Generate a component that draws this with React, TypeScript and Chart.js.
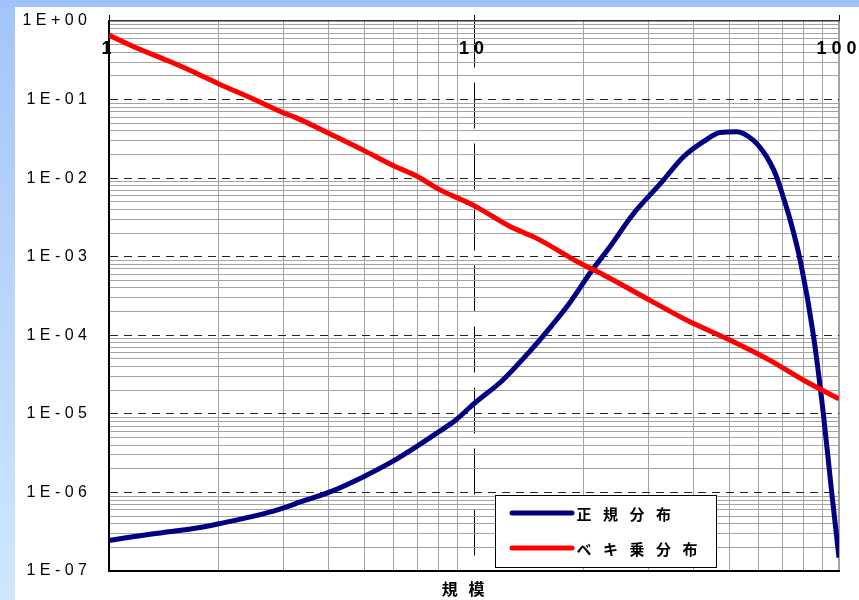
import React, { useEffect, useRef } from 'react';
import { Chart, registerables } from 'chart.js';

Chart.register(...registerables);

// ---- data ----
const seriesNames = ['正規分布', 'ベキ乗分布'];
const xTitle = '規 模';

const normalX = [1, 1.34, 1.72, 2, 2.79, 3.44, 4, 5, 6, 7, 8, 8.9, 10, 12, 14.2, 16.5, 18.3, 20.8, 23.6, 27.3, 32.4, 37.5, 42.5, 47.2, 52.5, 58.2, 62.1, 64.7, 67.4, 70.3, 73.4, 78.5, 85.1, 90.6, 95.5, 100];
const normalY = [2.45e-7, 3.0e-7, 3.5e-7, 4.0e-7, 5.7e-7, 7.9e-7, 1.0e-6, 1.6e-6, 2.5e-6, 3.9e-6, 5.9e-6, 8.3e-6, 1.35e-5, 2.7e-5, 6.2e-5, 1.41e-4, 2.6e-4, 6.2e-4, 1.35e-3, 3.5e-3, 8.5e-3, 0.0187, 0.0291, 0.038, 0.039, 0.0305, 0.0215, 0.0158, 0.0105, 0.0058, 0.003, 8.5e-4, 1e-4, 1e-5, 1e-6, 1.48e-7];

const powerX = [1, 1.2, 1.44, 1.7, 2, 2.46, 3.03, 3.24, 4, 5, 6, 7, 8, 10, 12.6, 14.9, 19.5, 22.6, 30.3, 38.3, 50.2, 64.7, 79.8, 100];
const powerY = [0.66, 0.447, 0.316, 0.226, 0.158, 0.104, 0.0668, 0.0594, 0.0372, 0.0224, 0.0145, 0.0105, 0.00724, 0.00447, 0.0024, 0.0017, 8.3e-4, 5.9e-4, 2.8e-4, 1.55e-4, 8.7e-5, 4.8e-5, 2.7e-5, 1.55e-5];

const xTickValues = [1, 10, 100];
const xTickLabels = ['1', '10', '100'];
const yTickValues = [1e-7, 1e-6, 1e-5, 1e-4, 1e-3, 1e-2, 1e-1, 1];
const yTickLabels = ['1E-07', '1E-06', '1E-05', '1E-04', '1E-03', '1E-02', '1E-01', '1E+00'];
const minorMultipliers = [1, 2, 3, 4, 5, 6, 7, 8, 9];

const seriesColors = ['#000080', '#ff0000'];

// ---- helpers ----
const TRANSPARENT = 'rgba(0,0,0,0)';
const spaced = (s: string) => s.split('').join(' ');
const isDecade = (v: number) => {
  const l = Math.log10(v);
  return Math.abs(l - Math.round(l)) < 1e-6;
};
const minorTicks = (decades: number[]) => {
  const out: number[] = [];
  for (let i = 0; i < decades.length - 1; i++) {
    for (const m of minorMultipliers) out.push(m * decades[i]);
  }
  out.push(decades[decades.length - 1]);
  return out;
};

const bgPlugin = {
  id: 'pageBg',
  beforeDraw(chart: any) {
    const { ctx, width, height } = chart;
    ctx.save();
    const g = ctx.createLinearGradient(0, 0, 0, height);
    g.addColorStop(0, '#a2c6f9');
    g.addColorStop(1, '#cfe7fd');
    ctx.fillStyle = g;
    ctx.fillRect(0, 0, width, height);
    ctx.fillStyle = '#9dc3f9';
    ctx.fillRect(0, 0, width, 7);
    ctx.fillStyle = '#ffffff';
    ctx.fillRect(15, 7, width - 15, height - 7);
    ctx.restore();
  },
};

const boxLegendPlugin = {
  id: 'boxLegend',
  afterDraw(chart: any) {
    const { ctx } = chart;
    const ds = chart.data.datasets;
    ctx.save();
    ctx.fillStyle = '#ffffff';
    ctx.fillRect(495.5, 495.5, 221, 72);
    ctx.strokeStyle = '#000';
    ctx.lineWidth = 1;
    ctx.strokeRect(495.5, 495.5, 221, 72);
    ds.forEach((d: any, i: number) => {
      const y = 513 + i * 35;
      ctx.strokeStyle = d.borderColor;
      ctx.lineWidth = 5;
      ctx.lineCap = 'round';
      ctx.beginPath();
      ctx.moveTo(512, y);
      ctx.lineTo(572, y);
      ctx.stroke();
      ctx.fillStyle = '#000';
      ctx.font = 'bold 15px "Noto Sans CJK JP"';
      ctx.textAlign = 'center';
      ctx.textBaseline = 'middle';
      Array.from(d.label as string).forEach((ch, j) => {
        ctx.fillText(ch, 584 + j * 26.5, y + 1);
      });
    });
    ctx.restore();
  },
};

export default function App() {
  const ref = useRef<HTMLCanvasElement | null>(null);

  useEffect(() => {
    if (!ref.current) return;
    Chart.defaults.font.family = '"Liberation Sans", Arial, sans-serif';
    const xMinor = minorTicks([1, 10, 100]);
    const yMinor = minorTicks(yTickValues);

    const chart = new Chart(ref.current, {
      type: 'line',
      data: {
        datasets: [
          {
            label: seriesNames[0],
            data: normalX.map((x, i) => ({ x, y: normalY[i] })),
            borderColor: seriesColors[0],
            backgroundColor: seriesColors[0],
            borderWidth: 5,
            pointRadius: 0,
            cubicInterpolationMode: 'monotone',
            xAxisID: 'x',
            yAxisID: 'y',
            order: 1,
          },
          {
            label: seriesNames[1],
            data: powerX.map((x, i) => ({ x, y: powerY[i] })),
            borderColor: seriesColors[1],
            backgroundColor: seriesColors[1],
            borderWidth: 5,
            pointRadius: 0,
            cubicInterpolationMode: 'monotone',
            xAxisID: 'x',
            yAxisID: 'y',
            order: 0,
          },
        ],
      },
      options: {
        responsive: false,
        maintainAspectRatio: false,
        animation: false,
        layout: { padding: { top: 15, right: 20, left: 0, bottom: 0 } },
        plugins: { legend: { display: false }, tooltip: { enabled: false } },
        scales: {
          x: {
            type: 'logarithmic',
            position: 'bottom',
            min: 1,
            max: 100,
            afterBuildTicks: (s: any) => { s.ticks = xMinor.map((v) => ({ value: v })); },
            ticks: { display: false },
            grid: {
              color: (c: any) => {
                const v = c.tick ? c.tick.value : 0;
                if (Math.abs(v - 1) < 1e-9 || Math.abs(v - 10) < 1e-9) return TRANSPARENT;
                return '#a3a3a3';
              },
              lineWidth: (c: any) => (c.tick && Math.abs(c.tick.value - 100) < 1e-9 ? 2 : 1),
              drawTicks: false,
            },
            border: { display: true, color: '#000', width: 2 },
            title: {
              display: true,
              text: xTitle.replace(' ', '   ') + '      ',
              color: '#000',
              font: { family: '"Noto Sans CJK JP", sans-serif', size: 16, weight: 'bold' },
              padding: { top: 0, bottom: 1 },
            },
            afterFit: (s: any) => { s.height = 29; s.paddingLeft = 0; s.paddingRight = 0; },
          },
          x2: {
            type: 'logarithmic',
            position: 'top',
            min: 1,
            max: 100,
            afterBuildTicks: (s: any) => { s.ticks = xTickValues.map((v) => ({ value: v })); },
            ticks: {
              mirror: true,
              padding: 17,
              autoSkip: false,
              maxRotation: 0,
              color: '#000',
              font: { size: 18, weight: 'bold' },
              callback: (_v: any, i: number) => spaced(xTickLabels[i]) + ' ',
            },
            grid: {
              color: (c: any) => (c.tick && Math.abs(c.tick.value - 10) < 1e-9 ? '#000' : TRANSPARENT),
              tickColor: '#000',
              tickLength: 6,
              drawTicks: true,
              tickBorderDash: [],
            },
            border: {
              display: true,
              color: '#333',
              width: 1.5,
              dash: (c: any) => (c.type === 'tick' ? [46, 15] : []),
            },
            afterFit: (s: any) => { s.height = 6; s.paddingLeft = 0; s.paddingRight = 0; },
          },
          y: {
            type: 'logarithmic',
            position: 'left',
            min: 1e-7,
            max: 1,
            afterBuildTicks: (s: any) => { s.ticks = yMinor.map((v) => ({ value: v })); },
            ticks: { display: false },
            grid: {
              color: (c: any) => (c.tick && isDecade(c.tick.value) ? TRANSPARENT : '#a3a3a3'),
              drawTicks: false,
            },
            border: { display: false },
            afterFit: (s: any) => { s.width = 0; s.paddingTop = 0; s.paddingBottom = 0; },
          },
          y2: {
            type: 'logarithmic',
            position: 'left',
            min: 1e-7,
            max: 1,
            afterBuildTicks: (s: any) => { s.ticks = yTickValues.map((v) => ({ value: v })); },
            ticks: {
              padding: 22,
              autoSkip: false,
              color: '#000',
              font: { size: 16 },
              callback: (_v: any, i: number) => spaced(yTickLabels[i]),
            },
            grid: {
              color: (c: any) => {
                const v = c.tick ? c.tick.value : 0;
                if (Math.abs(v - 1) < 1e-12 || Math.abs(v - 1e-7) < 1e-15) return TRANSPARENT;
                return '#222';
              },
              drawTicks: false,
            },
            border: {
              display: true,
              color: '#000',
              width: 2,
              dash: (c: any) => (c.type === 'tick' ? [8, 6] : []),
            },
            afterFit: (s: any) => { s.width = 109; s.paddingTop = 0; s.paddingBottom = 0; },
          },
        },
      } as any,
      plugins: [bgPlugin, boxLegendPlugin],
    });
    return () => chart.destroy();
  }, []);

  return (
    <div style={{ position: 'fixed', left: 0, top: 0, width: 859, height: 600 }}>
      <canvas ref={ref} width={859} height={600} style={{ display: 'block' }} />
    </div>
  );
}
